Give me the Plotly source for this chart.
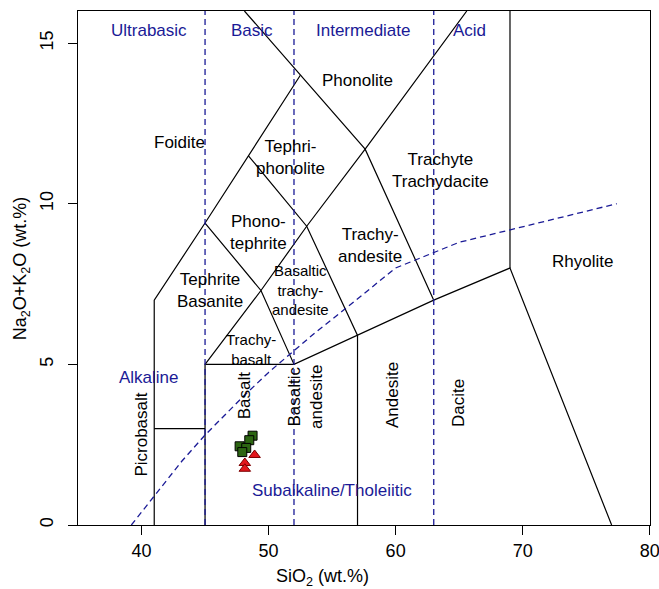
import plotly.graph_objects as go

# --- sample compositions (SiO2 vs total alkalis, wt.%) ---
sq_sio2 = [48.74, 48.48, 47.72, 48.24, 47.93]
sq_alk = [2.78, 2.64, 2.45, 2.40, 2.27]
tri_sio2 = [48.90, 48.13, 48.13]
tri_alk = [2.18, 1.93, 1.75]

# --- TAS field boundaries (Le Bas et al.) as polylines ---
boundary_x = [
    [41, 41, 45, 48.4, 52.5],
    [41, 45],
    [45, 45, 52, 57, 63, 69, 77],
    [45, 49.4, 52],
    [48.4, 53, 57, 57],
    [45, 49.4, 53, 57.6, 65.6],
    [48.1, 52.5, 57.6, 63],
    [69, 69],
]
boundary_y = [
    [0, 7, 9.4, 11.5, 14],
    [3, 3],
    [0, 5, 5, 5.9, 7, 8, 0],
    [9.4, 7.3, 5],
    [11.5, 9.3, 5.9, 0],
    [5, 7.3, 9.3, 11.7, 16],
    [16, 14, 11.7, 7],
    [8, 16],
]

# silica-saturation divisions
silica_div = [45, 52, 63]

# alkaline / subalkaline divide (Irvine & Baragar 1971)
ib_x = [39.2, 40, 43.2, 45, 48, 50, 53.7, 55, 60, 65, 77.4]
ib_y = [0, 0.4, 2, 2.8, 4, 4.75, 6, 6.4, 8, 8.8, 10]

x_ticks = [40, 50, 60, 70, 80]
y_ticks = [0, 5, 10, 15]

# field names: text, SiO2, alkalis, rotation, font size
field_labels = [
    ("Phonolite", 57.0, 13.85, 0, 17),
    ("Foidite", 43.0, 11.9, 0, 17),
    ("Tephri-<br>phonolite", 51.7, 11.45, 0, 17),
    ("Trachyte<br>Trachydacite", 63.5, 11.05, 0, 17),
    ("Phono-<br>tephrite", 49.2, 9.1, 0, 17),
    ("Trachy-<br>andesite", 58.0, 8.7, 0, 17),
    ("Rhyolite", 74.7, 8.2, 0, 17),
    ("Tephrite<br>Basanite", 45.4, 7.3, 0, 17),
    ("Basaltic<br>trachy-<br>andesite", 52.5, 7.3, 0, 15),
    ("Trachy-<br>basalt", 48.6, 5.45, 0, 15),
    ("Picrobasalt", 40.0, 2.8, -90, 17),
    ("Basalt", 48.1, 4.05, -90, 17),
    ("Basaltic<br>andesite", 52.9, 4.0, -90, 17),
    ("Andesite", 59.8, 4.05, -90, 17),
    ("Dacite", 65.0, 3.8, -90, 17),
]
series_labels = [
    ("Ultrabasic", 40.6, 15.4),
    ("Basic", 48.7, 15.4),
    ("Intermediate", 57.5, 15.4),
    ("Acid", 65.8, 15.4),
    ("Alkaline", 40.6, 4.6),
    ("Subalkaline/Tholeiitic", 55.0, 1.08),
]

FONT = "Liberation Sans, Arial, sans-serif"
BLUE = "#1a1a96"

fig = go.Figure()

for bx, by in zip(boundary_x, boundary_y):
    fig.add_trace(go.Scatter(x=bx, y=by, mode="lines",
                             line=dict(color="black", width=1.2),
                             hoverinfo="skip", showlegend=False))

for sx in silica_div:
    fig.add_trace(go.Scatter(x=[sx, sx], y=[0, 16], mode="lines",
                             line=dict(color=BLUE, width=1.3, dash="6px,4px"),
                             hoverinfo="skip", showlegend=False))

fig.add_trace(go.Scatter(x=ib_x, y=ib_y, mode="lines",
                         line=dict(color=BLUE, width=1.3, dash="6px,4px"),
                         hoverinfo="skip", showlegend=False))

fig.add_trace(go.Scatter(x=tri_sio2, y=tri_alk, mode="markers",
                         marker=dict(symbol="triangle-up", size=10, color="#e3161c",
                                     line=dict(color="#7a0000", width=1)),
                         showlegend=False))
fig.add_trace(go.Scatter(x=sq_sio2, y=sq_alk, mode="markers",
                         marker=dict(symbol="square", size=9, color="#2c6512",
                                     line=dict(color="black", width=1)),
                         showlegend=False))

for text, x, y, ang, fs in field_labels:
    fig.add_annotation(x=x, y=y, text=text, textangle=ang, showarrow=False,
                       font=dict(family=FONT, size=fs, color="black"))
for text, x, y in series_labels:
    fig.add_annotation(x=x, y=y, text=text, showarrow=False,
                       font=dict(family=FONT, size=17, color=BLUE))

# axis titles
fig.add_annotation(x=54.25, y=-0.103, xref="x", yref="paper", yanchor="middle",
                   text="SiO<sub>2</sub> (wt.%)", showarrow=False,
                   font=dict(family=FONT, size=18, color="black"))
fig.add_annotation(x=-0.099, y=0.5, xref="paper", yref="paper", textangle=-90,
                   xanchor="center", yanchor="middle",
                   text="Na<sub>2</sub>O+K<sub>2</sub>O (wt.%)", showarrow=False,
                   font=dict(family=FONT, size=18, color="black"))

fig.update_layout(
    width=659, height=589,
    margin=dict(l=78, r=9, t=11, b=64, autoexpand=False),
    paper_bgcolor="white", plot_bgcolor="white",
    xaxis=dict(range=[35, 80.02], tickvals=x_ticks, ticklabeloverflow="allow",
               automargin=False,
               showgrid=False, zeroline=False, showline=True, mirror=True,
               linecolor="black", linewidth=1.2, ticks="outside", ticklen=9,
               tickcolor="black", tickfont=dict(family=FONT, size=18, color="black")),
    yaxis=dict(range=[0, 16], tickvals=y_ticks, tickangle=-90, automargin=False,
               showgrid=False, zeroline=False, showline=True, mirror=True,
               linecolor="black", linewidth=1.2, ticks="outside", ticklen=9,
               tickcolor="black", ticklabelstandoff=8,
               tickfont=dict(family=FONT, size=18, color="black")),
)

fig.write_html("out.html")
